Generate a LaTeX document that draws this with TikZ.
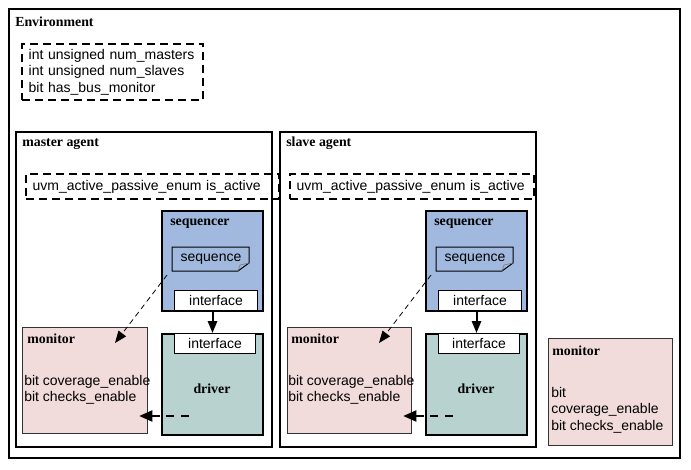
\documentclass[tikz,border=0pt]{standalone}
\usepackage{fontspec}
\setmainfont{Liberation Serif}
\setsansfont{Liberation Sans}
\usetikzlibrary{arrows.meta}

\definecolor{seqblue}{RGB}{161,185,222}
\definecolor{drvgreen}{RGB}{184,211,207}
\definecolor{monpink}{RGB}{242,220,219}

\tikzset{
  box/.style={draw=black, line width=1.5pt, anchor=north west, inner sep=0pt},
  title/.style={anchor=base west, inner sep=0pt, font=\fontsize{10.4pt}{12pt}\selectfont\bfseries},
  txt/.style={font=\fontsize{10.5pt}{12.4pt}\selectfont\sffamily},
  param/.style={draw=black, line width=1.5pt, dash pattern=on 6pt off 3.75pt, anchor=north west,
    inner xsep=5pt, inner ysep=0pt, align=left, txt},
  ifbox/.style={draw=black, line width=0.75pt, fill=white, anchor=north west, inner sep=0pt, txt},
  mon/.style={draw=black!80, line width=0.6pt, fill=monpink, anchor=north west, inner sep=0pt},
  montxt/.style={txt, anchor=north west, inner sep=0pt, align=left},
  link/.style={-{Triangle[length=9pt,width=7pt]}, line width=1.5pt},
  probe/.style={-{Triangle[length=9pt,width=7pt]}, line width=0.6pt, dash pattern=on 4pt off 3pt},
  feed/.style={-{Triangle[length=10pt,width=8pt]}, line width=2.2pt, dash pattern=on 6pt off 5pt},
}

\begin{document}
\begin{tikzpicture}[x=0.75pt, y=-0.75pt]
    \useasboundingbox (0,0) rectangle (691,470);

    % environment
    \node[box, line width=1.6pt, minimum width=503.25pt, minimum height=336.75pt] (env) at (8,8) {};
    \node[title] (envlbl) at (15,27) {Environment};
    \node[param, text width=126pt, minimum height=42pt] (envpar) at (21,43)
        {int unsigned num\_masters\\int unsigned num\_slaves\\bit has\_bus\_monitor};

    % master agent
    \node[box, minimum width=192pt, minimum height=236.25pt] (magent) at (15,131) {};
    \node[title] (magentlbl) at (22,147) {master agent};
    \node[param, text width=180pt, minimum height=18.75pt] (mact) at (25,173) {uvm\_active\_passive\_enum is\_active};

    \node[box, fill=seqblue, minimum width=75.75pt, minimum height=75pt] (mseq) at (161,210) {};
    \node[title] (mseqlbl) at (170,225) {sequencer};
    \draw[line width=0.75pt] (172,247) -- (249,247) -- (249,263) -- (238,271) -- (172,271) -- cycle;
    \draw[gray, line width=0.5pt] (249,263) -- (240,265) -- (238,271);
    \node[txt, inner sep=0pt] (mseqn) at (211,259) {sequence};
    \node[ifbox, minimum width=62.25pt, minimum height=15pt] (mseqif) at (174,290) {interface};

    \node[box, fill=drvgreen, minimum width=75.75pt, minimum height=75.75pt] (mdrv) at (161,333) {};
    \node[ifbox, minimum width=60.75pt, minimum height=15pt] (mdrvif) at (174,333) {interface};
    \node[title, anchor=base] (mdrvlbl) at (212,393) {driver};

    \node[mon, minimum width=93.75pt, minimum height=79.5pt] (mmon) at (22,327) {};
    \node[title] (mmonlbl) at (27,343) {monitor};
    \node[montxt] (mmontxt) at (24,375) {bit coverage\_enable\\bit checks\_enable};

    \coordinate (mseqout) at (167,275);
    \coordinate (mmonin) at (115,343);
    \coordinate (mdrvout) at (189,416);
    \coordinate (mmonfb) at (139,416);
    \draw[link] (mseqif.south -| mdrv.north) -- (mdrvif.north -| mdrv.north);
    \draw[probe] (mseqout) -- (mmonin);
    \draw[feed] (mdrvout) -- (mmonfb);

    % slave agent
    \node[box, minimum width=192pt, minimum height=236.25pt] (sagent) at (279,131) {};
    \node[title] (sagentlbl) at (286,147) {slave agent};
    \node[param, text width=173pt, minimum height=18.75pt] (sact) at (289,173) {uvm\_active\_passive\_enum is\_active};

    \node[box, fill=seqblue, minimum width=75.75pt, minimum height=75pt] (sseq) at (425,210) {};
    \node[title] (sseqlbl) at (434,225) {sequencer};
    \draw[line width=0.75pt] (436,247) -- (513,247) -- (513,263) -- (502,271) -- (436,271) -- cycle;
    \draw[gray, line width=0.5pt] (513,263) -- (504,265) -- (502,271);
    \node[txt, inner sep=0pt] (sseqn) at (475,259) {sequence};
    \node[ifbox, minimum width=62.25pt, minimum height=15pt] (sseqif) at (438,290) {interface};

    \node[box, fill=drvgreen, minimum width=75.75pt, minimum height=75.75pt] (sdrv) at (425,333) {};
    \node[ifbox, minimum width=60.75pt, minimum height=15pt] (sdrvif) at (438,333) {interface};
    \node[title, anchor=base] (sdrvlbl) at (476,393) {driver};

    \node[mon, minimum width=93pt, minimum height=79.5pt] (smon) at (287,327) {};
    \node[title] (smonlbl) at (291,343) {monitor};
    \node[montxt] (smontxt) at (288,375) {bit coverage\_enable\\bit checks\_enable};

    \coordinate (sseqout) at (431,275);
    \coordinate (smonin) at (379,343);
    \coordinate (sdrvout) at (453,416);
    \coordinate (smonfb) at (403,416);
    \draw[link] (sseqif.south -| sdrv.north) -- (sdrvif.north -| sdrv.north);
    \draw[probe] (sseqout) -- (smonin);
    \draw[feed] (sdrvout) -- (smonfb);

    % bus monitor
    \node[mon, minimum width=93pt, minimum height=80.25pt] (bmon) at (548,338) {};
    \node[title] (bmonlbl) at (552,355) {monitor};
    \node[montxt] (bmontxt) at (551,387) {bit\\coverage\_enable\\bit checks\_enable};
\end{tikzpicture}
\end{document}
